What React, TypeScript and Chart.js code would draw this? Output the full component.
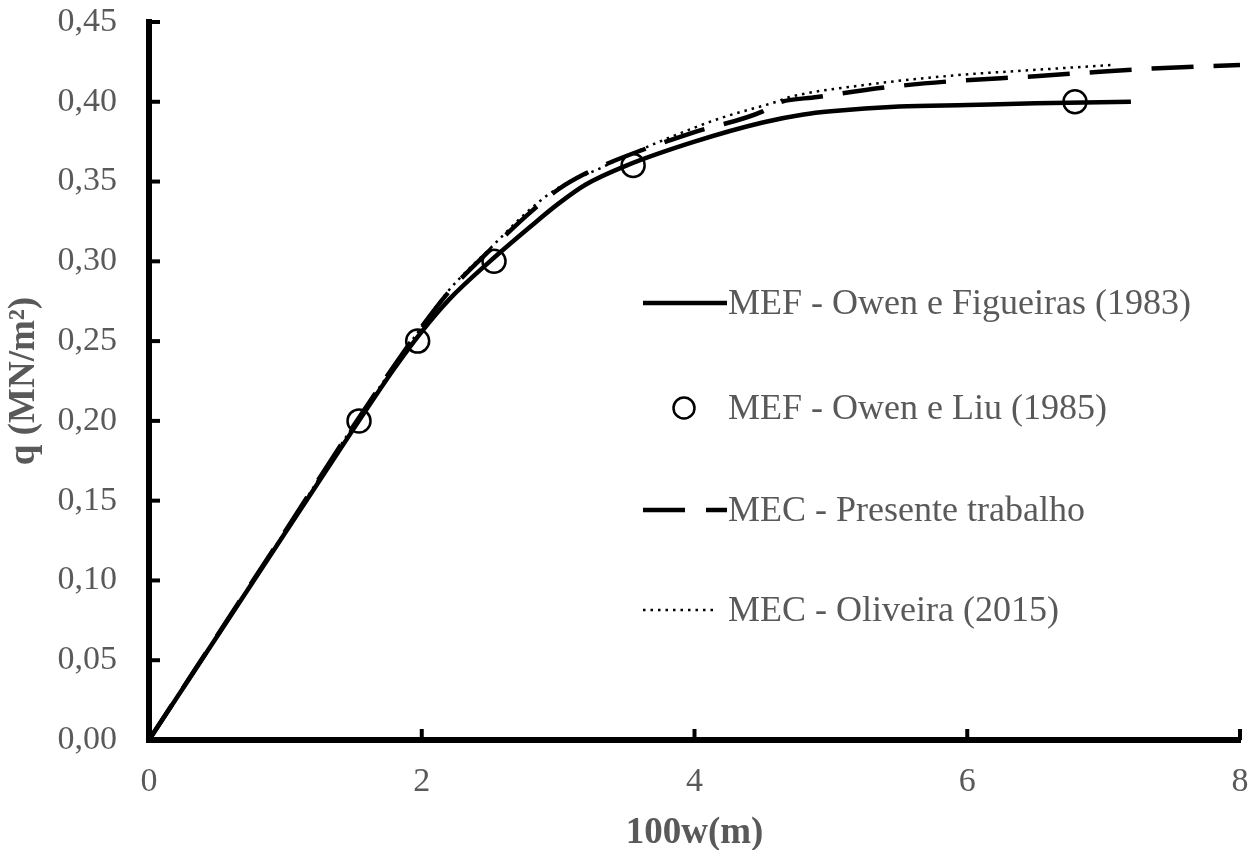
import { useEffect, useRef } from "react";
import { Chart, registerables } from "chart.js";

Chart.register(...registerables);

// MEF - Owen e Figueiras (1983): solid curve
const figueirasW = [0, 1.0, 1.5, 1.8, 2.0, 2.2, 2.5, 2.8, 3.0, 3.2, 3.5, 4.0, 4.5, 4.8, 5.0, 5.5, 6.0, 6.5, 7.2];
const figueirasQ = [0, 0.13, 0.195, 0.233, 0.256, 0.276, 0.3, 0.322, 0.336, 0.348, 0.36, 0.375, 0.387, 0.392, 0.394, 0.397, 0.398, 0.399, 0.4];

// MEF - Owen e Liu (1985): open circles
const liuW = [1.54, 1.97, 2.53, 3.55, 6.79];
const liuQ = [0.2, 0.25, 0.3, 0.36, 0.4];

// MEC - Presente trabalho: dashed curve
const presenteW = [0, 1.0, 1.5, 2.0, 2.2, 2.5, 2.8, 3.0, 3.2, 3.5, 4.0, 4.5, 4.6, 4.9, 5.4, 5.9, 6.5, 7.0, 7.4, 8.0];
const presenteQ = [0, 0.131, 0.197, 0.259, 0.281, 0.307, 0.331, 0.345, 0.355, 0.366, 0.381, 0.394, 0.399, 0.403, 0.409, 0.413, 0.416, 0.419, 0.421, 0.423];

// MEC - Oliveira (2015): dotted curve
const oliveiraW = [0, 1.0, 1.5, 2.0, 2.2, 2.5, 2.8, 3.0, 3.3, 3.5, 3.8, 4.2, 4.6, 4.7, 5.2, 5.9, 6.5, 7.05];
const oliveiraQ = [0, 0.131, 0.197, 0.259, 0.282, 0.308, 0.333, 0.346, 0.358, 0.366, 0.377, 0.39, 0.4, 0.403, 0.41, 0.4165, 0.42, 0.423];

const seriesLabels = [
  "MEF - Owen e Figueiras (1983)",
  "MEF - Owen e Liu (1985)",
  "MEC - Presente trabalho",
  "MEC - Oliveira (2015)",
];

const xTitle = "100w(m)";
const yTitle = "q (MN/m²)";

const GRAY = "#595959";
const SERIF = "'Liberation Serif', 'Times New Roman', serif";

const toPoints = (xs: number[], ys: number[]) => xs.map((x, i) => ({ x, y: ys[i] }));

// Short tick marks drawn inward from both axes
const innerTicks = {
  id: "innerTicks",
  afterDraw(chart: any) {
    const { ctx, chartArea, scales } = chart;
    ctx.save();
    ctx.strokeStyle = "#000";
    ctx.lineWidth = 4;
    ctx.lineCap = "butt";
    for (const t of scales.y.ticks) {
      const py = scales.y.getPixelForValue(t.value);
      ctx.beginPath();
      ctx.moveTo(chartArea.left, py);
      ctx.lineTo(chartArea.left + 11, py);
      ctx.stroke();
    }
    for (const t of scales.x.ticks) {
      if (t.value === 0) continue;
      const px = scales.x.getPixelForValue(t.value);
      ctx.beginPath();
      ctx.moveTo(px, chartArea.bottom);
      ctx.lineTo(px, chartArea.bottom - 11);
      ctx.stroke();
    }
    ctx.restore();
  },
};

// Legend placed inside the plot, one row per series
const insideLegend = {
  id: "insideLegend",
  afterDraw(chart: any) {
    const { ctx } = chart;
    const x0 = 643;
    const x1 = 727;
    const textX = 728;
    const rows = [303, 408, 510, 610];
    ctx.save();
    ctx.strokeStyle = "#000";
    ctx.lineCap = "butt";

    // solid
    ctx.lineWidth = 4.5;
    ctx.setLineDash([]);
    ctx.beginPath();
    ctx.moveTo(x0, rows[0]);
    ctx.lineTo(x1, rows[0]);
    ctx.stroke();

    // circle
    ctx.lineWidth = 2.5;
    ctx.beginPath();
    ctx.arc(684, rows[1], 10.5, 0, Math.PI * 2);
    ctx.stroke();

    // dashed
    ctx.lineWidth = 4.5;
    ctx.setLineDash([42, 21]);
    ctx.beginPath();
    ctx.moveTo(x0, rows[2]);
    ctx.lineTo(x1, rows[2]);
    ctx.stroke();

    // dotted
    ctx.lineWidth = 2.5;
    ctx.setLineDash([2.5, 5]);
    ctx.beginPath();
    ctx.moveTo(x0, rows[3]);
    ctx.lineTo(716, rows[3]);
    ctx.stroke();
    ctx.setLineDash([]);

    ctx.fillStyle = GRAY;
    ctx.font = `36px ${SERIF}`;
    ctx.textAlign = "left";
    ctx.textBaseline = "middle";
    chart.data.datasets.forEach((ds: any, i: number) => {
      ctx.fillText(ds.label, textX, rows[i] + 2);
    });
    ctx.restore();
  },
};

export default function App() {
  const canvasRef = useRef<HTMLCanvasElement | null>(null);

  useEffect(() => {
    const canvas = canvasRef.current;
    if (!canvas) return;
    const chart = new Chart(canvas, {
      type: "scatter",
      data: {
        datasets: [
          {
            label: seriesLabels[0],
            data: toPoints(figueirasW, figueirasQ),
            showLine: true,
            borderColor: "#000",
            borderWidth: 4.5,
            pointRadius: 0,
            cubicInterpolationMode: "monotone",
            order: 3,
          },
          {
            label: seriesLabels[1],
            data: toPoints(liuW, liuQ),
            showLine: false,
            borderColor: "#000",
            backgroundColor: "rgba(0,0,0,0)",
            borderWidth: 2.5,
            pointRadius: 11.5,
            pointStyle: "circle",
            order: 0,
          },
          {
            label: seriesLabels[2],
            data: toPoints(presenteW, presenteQ),
            showLine: true,
            borderColor: "#000",
            borderWidth: 4.5,
            borderDash: [42, 20],
            pointRadius: 0,
            cubicInterpolationMode: "monotone",
            order: 2,
          },
          {
            label: seriesLabels[3],
            data: toPoints(oliveiraW, oliveiraQ),
            showLine: true,
            borderColor: "#000",
            borderWidth: 2.5,
            borderDash: [2.5, 5],
            pointRadius: 0,
            cubicInterpolationMode: "monotone",
            order: 1,
          },
        ],
      },
      options: {
        responsive: false,
        animation: false,
        clip: false,
        layout: { padding: { left: 0, top: 22, right: 17, bottom: 0 } },
        plugins: {
          legend: { display: false },
          tooltip: { enabled: false },
        },
        scales: {
          x: {
            type: "linear",
            min: 0,
            max: 8,
            afterFit: (s: any) => {
              s.height = 110;
              s.paddingLeft = 0;
              s.paddingRight = 0;
            },
            ticks: {
              stepSize: 2,
              autoSkip: false,
              maxRotation: 0,
              padding: 22,
              color: GRAY,
              font: { family: SERIF, size: 34 },
              callback: (v: any) => String(v),
            },
            grid: { display: false, drawTicks: false },
            border: { display: true, color: "#000", width: 6 },
            title: {
              display: true,
              text: xTitle,
              color: GRAY,
              font: { family: SERIF, size: 37, weight: "bold", lineHeight: 0.9 },
              padding: { top: 0, bottom: 0 },
            },
          },
          y: {
            type: "linear",
            min: 0,
            max: 0.45,
            afterFit: (s: any) => {
              s.width = 149;
              s.paddingTop = 0;
              s.paddingBottom = 0;
            },
            ticks: {
              stepSize: 0.05,
              autoSkip: false,
              padding: 32,
              color: GRAY,
              font: { family: SERIF, size: 34 },
              callback: (v: any) => Number(v).toFixed(2).replace(".", ","),
            },
            grid: { display: false, drawTicks: false },
            border: { display: true, color: "#000", width: 6 },
            title: {
              display: true,
              text: yTitle,
              color: GRAY,
              font: { family: SERIF, size: 37, weight: "bold", lineHeight: 1 },
              padding: { top: 6, bottom: 0 },
            },
          },
        },
      },
      plugins: [innerTicks, insideLegend],
    } as any);
    return () => chart.destroy();
  }, []);

  return (
    <div style={{ position: "absolute", left: 0, top: 0, width: 1257, height: 850, background: "#fff" }}>
      <canvas ref={canvasRef} width={1257} height={850} />
    </div>
  );
}
